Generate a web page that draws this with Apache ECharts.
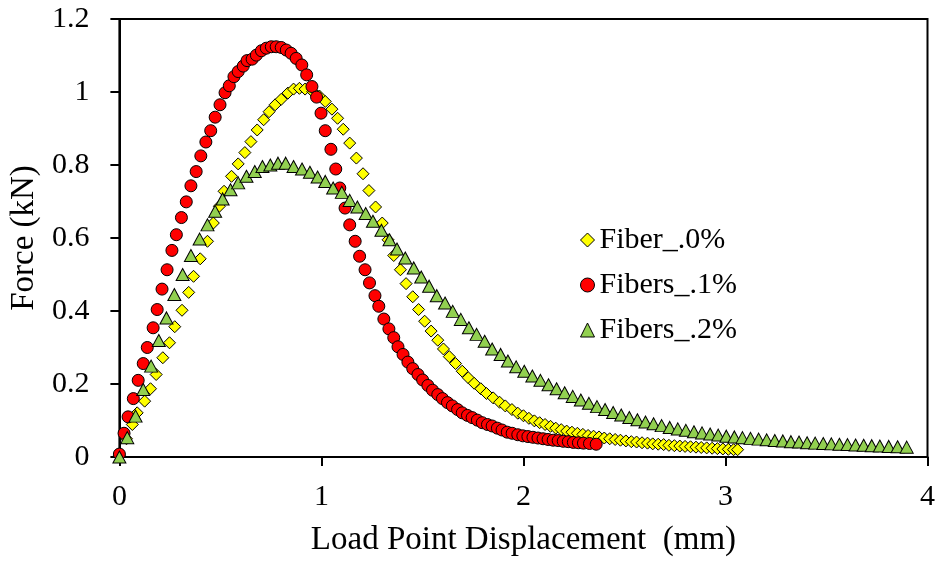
<!DOCTYPE html>
<html>
<head>
<meta charset="utf-8">
<script src="https://cdn.jsdelivr.net/npm/echarts@6/dist/echarts.min.js"></script>
<style>html,body{margin:0;padding:0;background:#fff;}#c{width:938px;height:562px;}</style>
</head>
<body>
<div id="c"></div>
<script>
const seriesNames = ['Fiber_.0%', 'Fibers_.1%', 'Fibers_.2%'];
const xTicks = [0, 1, 2, 3, 4];
const yTicks = [0, 0.2, 0.4, 0.6, 0.8, 1, 1.2];

const fiber0X = [0,0.035,0.064,0.088,0.125,0.154,0.182,0.215,0.248,0.274,0.31,0.343,0.367,0.4,0.436,0.465,0.495,0.518,0.555,0.588,0.621,0.651,0.682,0.714,0.741,0.771,0.801,0.834,0.862,0.891,0.919,0.957,0.99,1.019,1.052,1.08,1.108,1.14,1.173,1.206,1.235,1.268,1.301,1.33,1.358,1.391,1.419,1.452,1.481,1.511,1.543,1.576,1.604,1.633,1.664,1.697,1.727,1.756,1.789,1.817,1.85,1.882,1.91,1.943,1.972,
2.0,2.027,2.054,2.08,2.107,2.134,2.16,2.187,2.214,2.24,2.267,2.294,2.32,2.347,2.374,2.4,2.427,2.454,2.48,2.507,2.534,2.56,2.587,2.614,2.64,2.667,2.694,2.72,2.747,2.774,2.8,2.827,2.854,2.88,2.907,2.934,2.96,2.987,3.014,3.04,3.06];
const fiber0Y = [0.005,0.05,0.089,0.121,0.153,0.187,0.226,0.272,0.313,0.357,0.402,0.451,0.495,0.543,0.591,0.641,0.687,0.728,0.769,0.803,0.834,0.864,0.896,0.924,0.946,0.965,0.98,0.997,1.008,1.01,1.008,1.001,0.989,0.974,0.953,0.928,0.898,0.86,0.819,0.776,0.73,0.685,0.641,0.595,0.552,0.513,0.475,0.439,0.404,0.372,0.345,0.32,0.296,0.275,0.256,0.235,0.217,0.202,0.187,0.174,0.162,0.15,0.14,0.13,0.12,
0.113,0.106,0.099,0.094,0.089,0.084,0.079,0.075,0.071,0.068,0.065,0.062,0.059,0.057,0.055,0.052,0.05,0.048,0.046,0.044,0.042,0.041,0.039,0.038,0.036,0.035,0.034,0.032,0.031,0.03,0.029,0.028,0.027,0.026,0.025,0.024,0.023,0.022,0.021,0.02,0.02];

const fiber1X = [0,0.023,0.043,0.069,0.093,0.118,0.138,0.167,0.187,0.211,0.236,0.26,0.282,0.307,0.331,0.354,0.38,0.403,0.428,0.452,0.474,0.498,0.523,0.544,0.567,0.588,0.613,0.632,0.657,0.678,0.703,0.727,0.752,0.776,0.801,0.826,0.85,0.875,0.903,0.927,0.953,0.976,0.998,1.019,1.047,1.071,1.091,1.117,1.14,1.167,1.189,1.216,1.238,1.265,1.284,1.309,1.334,1.358,1.379,1.404,1.428,1.452,1.478,1.501,1.527,1.55,1.576,1.599,1.624,1.648,1.674,1.697,1.723,1.746,1.772,1.796,1.822,1.845,1.871,1.894,1.92,1.944,1.972,1.997,2.022,2.047,2.072,2.097,2.122,2.147,2.172,2.197,2.222,2.247,2.272,2.297,2.327,2.36];
const fiber1Y = [0.008,0.065,0.11,0.16,0.21,0.256,0.3,0.354,0.404,0.46,0.513,0.566,0.609,0.656,0.699,0.743,0.782,0.825,0.863,0.894,0.931,0.965,0.998,1.017,1.042,1.056,1.071,1.086,1.09,1.101,1.113,1.12,1.124,1.124,1.122,1.115,1.106,1.092,1.074,1.047,1.015,0.986,0.942,0.894,0.843,0.789,0.737,0.682,0.636,0.591,0.55,0.513,0.477,0.442,0.413,0.378,0.351,0.327,0.302,0.281,0.26,0.242,0.226,0.211,0.196,0.183,0.171,0.16,0.149,0.14,0.13,0.121,0.114,0.108,0.101,0.094,0.089,0.085,0.079,0.074,0.068,0.065,0.061,0.058,0.056,0.054,0.052,0.05,0.048,0.046,0.045,0.043,0.042,0.04,0.039,0.038,0.037,0.035];

const fiber2X = [0,0.039,0.08,0.118,0.157,0.195,0.233,0.272,0.313,0.354,0.397,0.436,0.474,0.511,0.55,0.588,0.629,0.67,0.708,0.747,0.785,0.823,0.862,0.904,0.943,0.981,1.019,1.058,1.101,1.14,1.178,1.219,1.255,1.297,1.337,1.374,1.415,1.457,1.494,1.533,1.571,1.612,1.65,1.69,1.73,1.768,1.808,1.845,1.887,1.923,1.964,
2.004,2.044,2.084,2.124,2.164,2.204,2.244,2.284,2.324,2.364,2.404,2.444,2.484,2.524,2.564,2.604,2.644,2.684,2.724,2.764,2.804,2.844,2.884,2.924,2.964,3.004,3.044,3.084,3.124,3.164,3.204,3.244,3.284,3.324,3.364,3.404,3.444,3.484,3.524,3.564,3.604,3.644,3.684,3.724,3.764,3.808,3.852,3.897];
const fiber2Y = [0,0.053,0.112,0.185,0.249,0.319,0.381,0.445,0.5,0.552,0.597,0.636,0.673,0.707,0.732,0.751,0.769,0.782,0.796,0.8,0.805,0.805,0.796,0.789,0.78,0.767,0.755,0.737,0.725,0.703,0.685,0.667,0.646,0.621,0.595,0.57,0.545,0.518,0.493,0.468,0.442,0.422,0.399,0.377,0.354,0.336,0.317,0.296,0.281,0.263,0.247,
0.235,0.222,0.21,0.198,0.187,0.176,0.166,0.156,0.147,0.138,0.13,0.122,0.115,0.108,0.102,0.096,0.091,0.086,0.081,0.077,0.073,0.069,0.066,0.063,0.06,0.057,0.055,0.053,0.051,0.049,0.047,0.045,0.044,0.042,0.041,0.039,0.038,0.037,0.036,0.035,0.034,0.033,0.032,0.031,0.03,0.029,0.028,0.027];

function pairs(xs, ys) { const n = Math.min(xs.length, ys.length); const o = []; for (let i = 0; i < n; i++) o.push([xs[i], ys[i]]); return o; }

const FONT = "'Liberation Serif', 'Times New Roman', serif";
const chart = echarts.init(document.getElementById('c'), null, { renderer: 'canvas' });
chart.setOption({
  animation: false,
  backgroundColor: '#fff',
  grid: { left: 115, right: 10, top: 19, bottom: 104, show: true, borderColor: '#000', borderWidth: 2, backgroundColor: 'transparent' },
  legend: {
    orient: 'vertical', left: 575, top: 220, itemGap: 15, itemWidth: 14, itemHeight: 14, itemTextGap: 7,
    textStyle: { fontFamily: FONT, fontSize: 30, color: '#000' },
    data: [
      { name: seriesNames[0], icon: 'diamond', itemStyle: { color: '#FFFF00', borderColor: '#000', borderWidth: 1 } },
      { name: seriesNames[1], icon: 'circle', itemStyle: { color: '#FF0000', borderColor: '#000', borderWidth: 1 } },
      { name: seriesNames[2], icon: 'triangle', itemStyle: { color: '#92D050', borderColor: '#000', borderWidth: 1 } }
    ]
  },
  xAxis: {
    type: 'value', min: xTicks[0], max: xTicks[xTicks.length - 1], interval: 1,
    name: 'Load Point Displacement  (mm)', nameLocation: 'middle', nameGap: 67,
    nameTextStyle: { fontFamily: FONT, fontSize: 33, color: '#000' },
    axisLine: { show: true, lineStyle: { color: '#000', width: 2 } },
    axisTick: { show: true, inside: false, length: 9, lineStyle: { color: '#000', width: 2 } },
    axisLabel: { fontFamily: FONT, fontSize: 30, color: '#000', margin: 25 },
    splitLine: { show: false }
  },
  yAxis: {
    type: 'value', min: yTicks[0], max: yTicks[yTicks.length - 1], interval: 0.2,
    name: 'Force (kN)', nameLocation: 'middle', nameGap: 76, nameRotate: 90,
    nameTextStyle: { fontFamily: FONT, fontSize: 33, color: '#000' },
    axisLine: { show: true, lineStyle: { color: '#000', width: 2 } },
    axisTick: { show: true, inside: false, length: 9, lineStyle: { color: '#000', width: 2 } },
    axisLabel: { fontFamily: FONT, fontSize: 30, color: '#000', margin: 30, formatter: v => String(+v.toFixed(1)) },
    splitLine: { show: false }
  },
  series: [
    { name: seriesNames[0], type: 'scatter', symbol: 'diamond', symbolSize: [12, 12], data: pairs(fiber0X, fiber0Y),
      itemStyle: { color: '#FFFF00', borderColor: '#000', borderWidth: 1, opacity: 1 } },
    { name: seriesNames[1], type: 'scatter', symbol: 'circle', symbolSize: 12, data: pairs(fiber1X, fiber1Y),
      itemStyle: { color: '#FF0000', borderColor: '#000', borderWidth: 1, opacity: 1 } },
    { name: seriesNames[2], type: 'scatter', symbol: 'triangle', symbolSize: [13, 12], data: pairs(fiber2X, fiber2Y),
      itemStyle: { color: '#92D050', borderColor: '#000', borderWidth: 1, opacity: 1 } }
  ]
});
</script>
</body>
</html>
